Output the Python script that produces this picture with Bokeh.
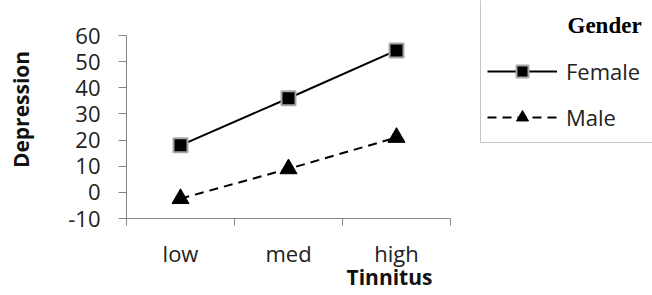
from bokeh.plotting import figure
from bokeh.models import (Range1d, FixedTicker, Legend, LegendItem, Label, BoxAnnotation)
from bokeh.embed import file_html
from bokeh.resources import INLINE

# ---- data ----
categories = ["low", "med", "high"]
female = [18, 36, 54.3]
male = [-2.4, 9, 21]
y_ticks = [-10, 0, 10, 20, 30, 40, 50, 60]
series_names = ["Female", "Male"]
legend_title = "Gender"
x_title = "Tinnitus"
y_title = "Depression"

W, H = 652, 295
# plot-area geometry (pixels)
LEFT, RIGHT_AXIS_END, AXIS_Y, TOP_TICK_Y = 126, 450, 218, 35

n = len(categories)
ymin, ymax = y_ticks[0], y_ticks[-1]
px_per_x = (RIGHT_AXIS_END - LEFT) / n
px_per_y = (AXIS_Y - TOP_TICK_Y) / (ymax - ymin)
x_end = (W - LEFT) / px_per_x
y_end = ymin + AXIS_Y / px_per_y

xs = [i + 0.5 for i in range(n)]

p = figure(width=W, height=H,
           min_border_left=LEFT, min_border_right=0,
           min_border_top=0, min_border_bottom=H - AXIS_Y,
           x_range=Range1d(0, x_end), y_range=Range1d(ymin, y_end),
           output_backend="svg", toolbar_location=None)
p.outline_line_color = None
p.grid.grid_line_color = None
p.background_fill_color = "white"
p.border_fill_color = "white"

font = "Open Sans"
axis_color = "#868686"

# x axis
p.xaxis.ticker = FixedTicker(ticks=xs, minor_ticks=list(range(n + 1)))
p.xaxis.bounds = (0, n)
p.xaxis.major_label_overrides = {x: c for x, c in zip(xs, categories)}
p.xaxis.major_tick_line_color = None
p.xaxis.major_tick_out = 0
p.xaxis.major_tick_in = 0
p.xaxis.minor_tick_out = 7
p.xaxis.minor_tick_in = 0
p.xaxis.minor_tick_line_color = axis_color
p.xaxis.axis_line_color = axis_color
p.xaxis.major_label_standoff = 12
p.xaxis.axis_label = x_title
p.xaxis.axis_label_standoff = -8

# y axis
p.yaxis.ticker = FixedTicker(ticks=y_ticks, minor_ticks=[])
p.yaxis.bounds = (ymin, ymax)
p.yaxis.major_label_overrides = {t: str(t) for t in y_ticks}
p.yaxis.major_tick_out = 8
p.yaxis.major_tick_in = 0
p.yaxis.major_tick_line_color = axis_color
p.yaxis.axis_line_color = axis_color
p.yaxis.minor_tick_line_color = None
p.yaxis.major_label_standoff = 18
p.yaxis.axis_label = y_title
p.yaxis.axis_label_standoff = 30

for ax in (p.xaxis, p.yaxis):
    ax.major_label_text_font = font
    ax.major_label_text_font_size = "22px"
    ax.major_label_text_color = "#222222"
    ax.axis_label_text_font = font
    ax.axis_label_text_font_size = "21px"
    ax.axis_label_text_font_style = "bold"
    ax.axis_label_text_color = "#111111"

# series
lf = p.line(xs, female, line_color="black", line_width=2)
sf = p.scatter(xs, female, marker="square", size=14, fill_color="black",
               line_color="#a6a6a6", line_width=2)
lm = p.line(xs, male, line_color="black", line_width=2, line_dash="9 6")
sm = p.scatter(xs, male, marker="triangle", size=17, fill_color="black",
               line_color="black")

legend = Legend(items=[LegendItem(label=series_names[0], renderers=[lf, sf]),
                       LegendItem(label=series_names[1], renderers=[lm, sm])],
                location=(487 - LEFT, AXIS_Y - 132), orientation="vertical",
                glyph_width=70, glyph_height=30, spacing=16, padding=0, margin=0,
                label_standoff=9, label_text_font=font, label_text_font_size="22px",
                label_text_color="#222222", label_height=30,
                border_line_alpha=0, background_fill_alpha=0)
p.add_layout(legend, "center")

p.add_layout(Label(x=567 - LEFT, y=AXIS_Y - 25, x_units="screen", y_units="screen",
                   text=legend_title, text_font="Liberation Serif", text_font_style="bold",
                   text_font_size="23px", text_color="black", text_baseline="alphabetic"))

# legend frame (left and bottom edges visible; top/right run off the page)
p.add_layout(BoxAnnotation(left=480, right=W + 20, top=-20, bottom=142,
                           left_units="canvas", right_units="canvas",
                           top_units="canvas", bottom_units="canvas",
                           fill_alpha=0, line_color="#404040", line_width=1))

open("out.html", "w").write(file_html(p, INLINE))
